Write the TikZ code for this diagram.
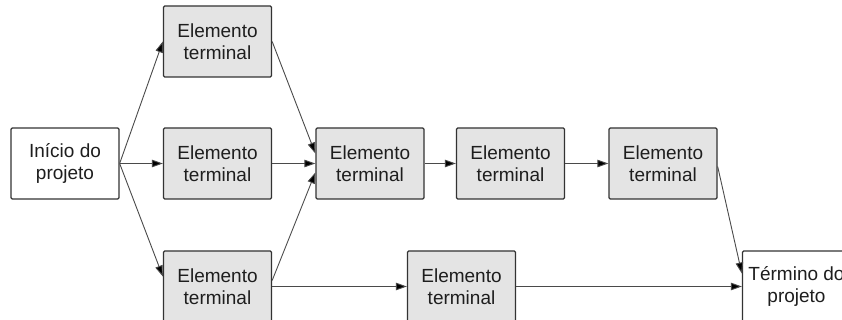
\documentclass[tikz,border=0pt]{standalone}
\usepackage{fontspec}
\setmainfont{Liberation Sans}
\usetikzlibrary{arrows.meta}
\definecolor{boxfill}{HTML}{E4E4E4}
\definecolor{boxline}{HTML}{333333}
\definecolor{linkline}{HTML}{4A4A4A}
\definecolor{textcol}{HTML}{1E1E1E}
\tikzset{
  task/.style={draw=boxline, line width=1.3pt, rounded corners=1.2pt,
    minimum width=108pt, minimum height=71pt, inner sep=0pt,
    align=center, text=textcol, font=\fontsize{19}{21.5}\selectfont},
  work/.style={task, fill=boxfill},
  milestone/.style={task, fill=white},
  link/.style={draw=linkline, line width=0.9pt,
    -{Triangle[length=11pt,width=7.5pt,fill=black]}}
}
\begin{document}
\begin{tikzpicture}[x=1pt,y=1pt]
  \useasboundingbox (0,0) rectangle (842,320);
  \clip (0,0) rectangle (842,320);
  \fill[white] (0,0) rectangle (842,320);

  % project network
  \node[milestone] (ini) at (65,156.5) {Início do\\projeto};
  \node[work] (t1) at (217.5,278.5) {Elemento\\terminal};
  \node[work] (m1) at (217.5,156.5) {Elemento\\terminal};
  \node[work] (b1) at (217.5,33.5) {Elemento\\terminal};
  \node[work] (c)  at (370,156.5) {Elemento\\terminal};
  \node[work] (m2) at (510.5,156.5) {Elemento\\terminal};
  \node[work] (m3) at (663,156.5) {Elemento\\terminal};
  \node[work] (bm) at (461.5,33.5) {Elemento\\terminal};
  \node[milestone] (fim) at (796.5,33.5) {Término do\\projeto};

  % precedence links
  \draw[link] (ini.east) -- (t1.west);
  \draw[link] (ini.east) -- (m1.west);
  \draw[link] (ini.east) -- ([yshift=10pt]b1.west);
  \draw[link] (t1.east) -- ([yshift=10pt]c.west);
  \draw[link] (m1.east) -- (c.west);
  \draw[link] ([yshift=6pt]b1.east) -- ([yshift=-9pt]c.west);
  \draw[link] (c.east) -- (m2.west);
  \draw[link] (m2.east) -- (m3.west);
  \draw[link] ([yshift=-3pt]m3.east) -- ([yshift=13pt]fim.west);
  \draw[link] (b1.east) -- (bm.west);
  \draw[link] (bm.east) -- (fim.west);
\end{tikzpicture}
\end{document}
